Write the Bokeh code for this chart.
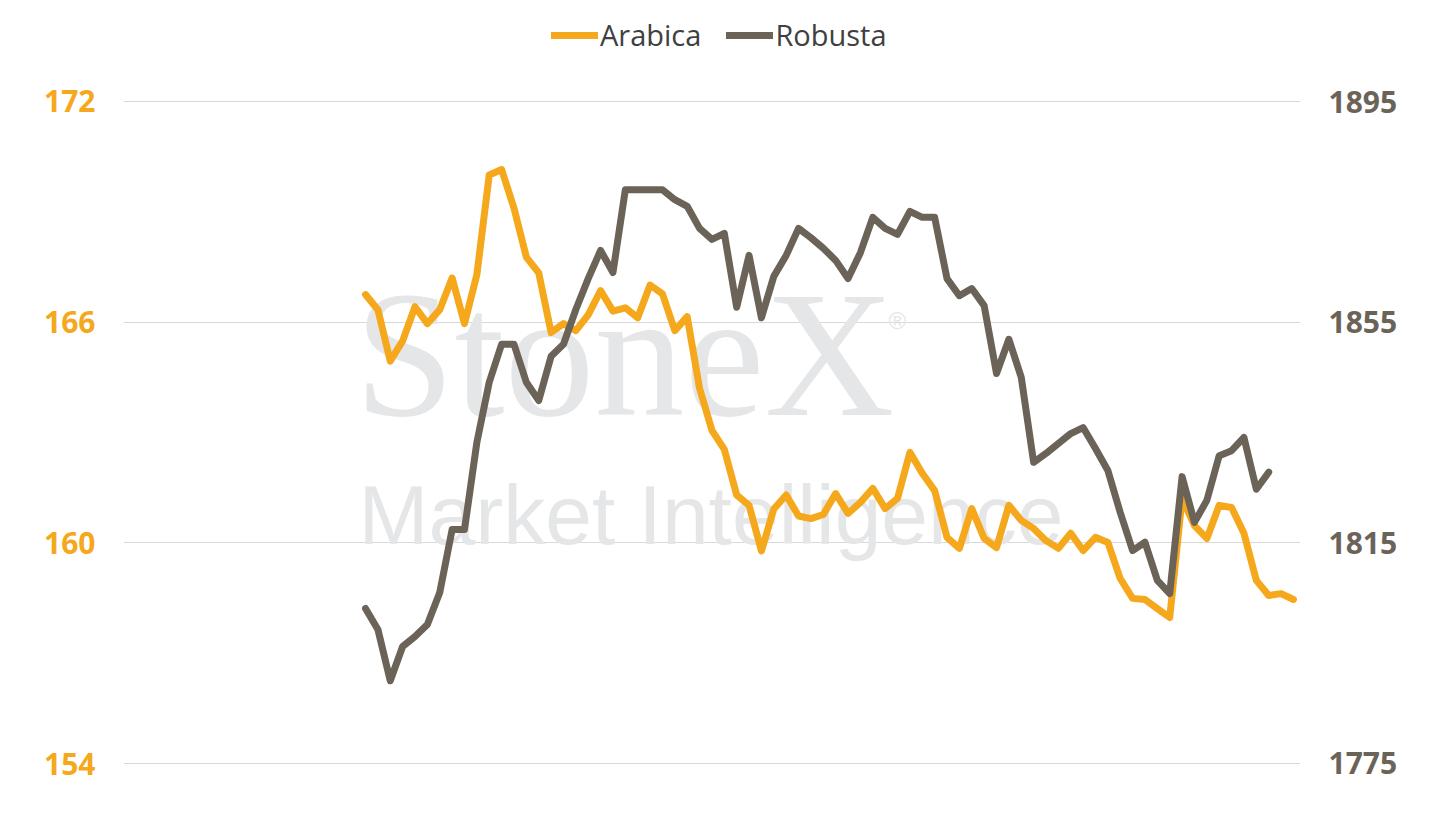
from bokeh.plotting import figure
from bokeh.models import (Range1d, LinearAxis, FixedTicker, Legend, LegendItem,
                          Label, ColumnDataSource)
from bokeh.embed import file_html
from bokeh.resources import INLINE
import numpy as np

ARABICA_COLOR = "#F5A81C"
ROBUSTA_COLOR = "#6B6358"
WATERMARK_COLOR = "#E5E6E8"

# Arabica, left axis (USc/lb)
arabica = [
    166.75, 166.34, 164.94, 165.49, 166.42, 165.96, 166.34, 167.20, 165.96, 167.29,
    170.00, 170.15, 169.10, 167.77, 167.34, 165.72, 165.96, 165.77, 166.20, 166.86,
    166.30, 166.39, 166.12, 167.01, 166.77, 165.77, 166.15, 164.20, 163.06, 162.54,
    161.30, 161.02, 159.78, 160.92, 161.30, 160.73, 160.66, 160.77, 161.34, 160.80,
    161.10, 161.48, 160.93, 161.21, 162.46, 161.89, 161.42, 160.15, 159.85, 160.93,
    160.12, 159.87, 161.02, 160.61, 160.39, 160.06, 159.85, 160.26, 159.79, 160.15,
    160.01, 159.03, 158.49, 158.46, 158.21, 157.97, 161.21, 160.47, 160.12, 161.02,
    160.96, 160.26, 158.98, 158.57, 158.62, 158.46,
]

# Robusta, right axis (USD/t)
robusta = [
    1803.1, 1799.3, 1790.0, 1796.2, 1798.0, 1800.2, 1806.0, 1817.4, 1817.4, 1833.2,
    1844.1, 1851.0, 1851.0, 1844.1, 1840.8, 1848.8, 1851.0, 1857.3, 1862.9, 1868.0,
    1864.0, 1879.0, 1879.0, 1879.0, 1879.0, 1877.2, 1876.0, 1872.0, 1870.0, 1871.1,
    1857.7, 1867.1, 1855.8, 1863.3, 1867.1, 1872.0, 1870.3, 1868.4, 1866.2, 1862.9,
    1867.6, 1874.0, 1872.0, 1870.9, 1875.1, 1874.0, 1874.0, 1862.9, 1859.8, 1861.1,
    1858.0, 1845.7, 1851.9, 1845.0, 1829.6, 1831.2, 1833.0, 1834.8, 1835.9, 1832.1,
    1828.1, 1820.5, 1813.6, 1815.1, 1808.2, 1805.8, 1827.0, 1818.7, 1822.7, 1830.8,
    1831.7, 1834.1, 1824.7, 1827.8,
]

left_ticks = [154, 160, 166, 172]
right_ticks = [1775, 1815, 1855, 1895]

src_a = ColumnDataSource(data=dict(t=np.arange(len(arabica)), price=arabica))
src_r = ColumnDataSource(data=dict(t=np.arange(len(robusta)), price=robusta))

# frame runs to the top of the canvas so the legend can sit inside it
p = figure(width=1421, height=805,
           x_range=Range1d(-19.56, 75.57),
           y_range=Range1d(153.674, 174.746),
           output_backend="svg", toolbar_location=None,
           min_border_left=123, min_border_right=121,
           min_border_top=0, min_border_bottom=30)
p.extra_y_ranges = {"robusta": Range1d(1772.82, 1913.31)}
p.outline_line_color = None
p.background_fill_color = "white"
p.border_fill_color = "white"

# axes
p.xaxis.visible = False
p.xgrid.visible = False

p.yaxis.ticker = FixedTicker(ticks=left_ticks)
p.yaxis.axis_line_color = None
p.yaxis.major_tick_line_color = None
p.yaxis.minor_tick_line_color = None
p.yaxis.major_label_standoff = 22
p.yaxis.major_label_text_font = "Open Sans"
p.yaxis.major_label_text_font_size = "30px"
p.yaxis.major_label_text_font_style = "bold"
p.yaxis.major_label_text_color = ARABICA_COLOR

right_axis = LinearAxis(y_range_name="robusta", ticker=FixedTicker(ticks=right_ticks))
right_axis.axis_line_color = None
right_axis.major_tick_line_color = None
right_axis.minor_tick_line_color = None
right_axis.major_label_standoff = 22
right_axis.major_label_text_font = "Open Sans"
right_axis.major_label_text_font_size = "30px"
right_axis.major_label_text_font_style = "bold"
right_axis.major_label_text_color = ROBUSTA_COLOR
p.add_layout(right_axis, "right")

p.ygrid.ticker = FixedTicker(ticks=left_ticks)
p.ygrid.grid_line_color = "#D9D9D9"
p.ygrid.grid_line_width = 1

# watermark (screen px from the frame's bottom-left)
for txt, x, y, font, size in [
    ("StoneX", 231, 421, "Liberation Serif", "180px"),
    ("Market Intelligence", 235, 261, "Liberation Sans", "84px"),
]:
    p.add_layout(Label(x=x, y=y, x_units="screen", y_units="screen", text=txt,
                       text_font=font, text_font_size=size,
                       text_color=WATERMARK_COLOR, text_baseline="alphabetic",
                       level="underlay"))
p.add_layout(Label(x=765, y=455, x_units="screen", y_units="screen", text="®",
                   text_font="Liberation Sans", text_font_size="24px",
                   text_color=WATERMARK_COLOR, text_baseline="middle",
                   level="underlay"))

# series
line_a = p.line("t", "price", source=src_a, line_color=ARABICA_COLOR,
                line_width=7, line_join="round", line_cap="round")
line_r = p.line("t", "price", source=src_r, line_color=ROBUSTA_COLOR,
                line_width=7, line_join="round", line_cap="round",
                y_range_name="robusta")

legend = Legend(items=[LegendItem(label="Arabica", renderers=[line_a]),
                       LegendItem(label="Robusta", renderers=[line_r])],
                orientation="horizontal", location=(428, 721),
                label_text_font="Open Sans", label_text_font_size="29px",
                label_text_color="#404040", label_standoff=2, spacing=25,
                glyph_width=47, glyph_height=34, label_height=34,
                padding=0, margin=0,
                border_line_color=None, background_fill_color=None)
p.add_layout(legend)

open("out.html", "w").write(file_html(p, INLINE))
